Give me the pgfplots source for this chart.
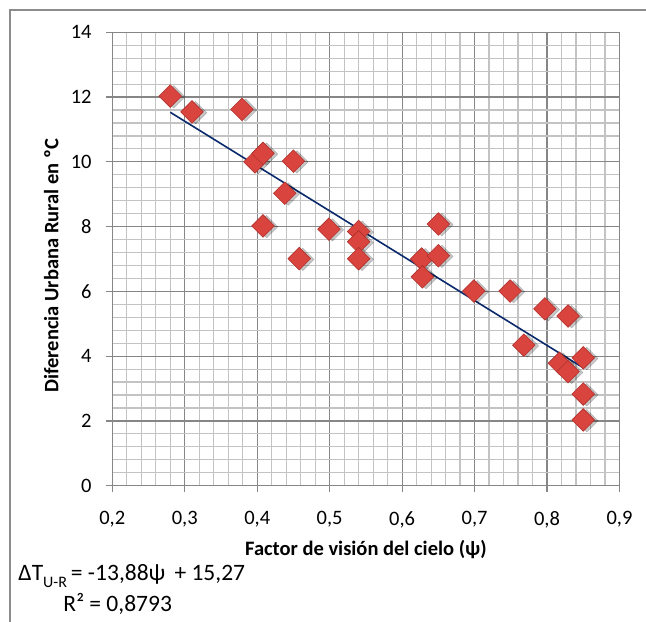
\documentclass[border=0pt]{standalone}
\usepackage{pgfplots}
\usepackage{pgfplotstable}
\pgfplotsset{compat=1.18}
\usepackage{fontspec}
\setmainfont{Carlito}
\definecolor{majgrid}{HTML}{868686}
\definecolor{mingrid}{HTML}{C3C3C3}
\definecolor{mkfill}{HTML}{D9443F}
\definecolor{mkdraw}{HTML}{B0302B}
\definecolor{trend}{HTML}{0A2A6B}
\definecolor{framec}{HTML}{8C8C8C}

\pgfplotstableread{
x y
0.280 12.03
0.310 11.54
0.379 11.62
0.397 10.00
0.408 10.26
0.450 10.02
0.438 9.03
0.408 8.02
0.458 7.01
0.499 7.92
0.540 7.85
0.540 7.53
0.540 7.01
0.627 7.00
0.650 7.10
0.628 6.45
0.650 8.08
0.699 6.01
0.749 6.01
0.797 5.46
0.829 5.24
0.768 4.34
0.817 3.78
0.829 3.52
0.850 3.95
0.850 2.83
0.850 2.03
}\datatable

\pgfplotstableread{
x y
0.280 11.53
0.850 3.64
}\trendtable

\begin{document}
\fontsize{19.5bp}{23bp}\selectfont
\begin{tikzpicture}
\path[use as bounding box] (-112.3bp,-136.3bp) rectangle (533.7bp,485.7bp);
\draw[framec, line width=1.3bp] (-102.3bp,-170bp) -- (-102.3bp,475.7bp) -- (600bp,475.7bp);
\begin{axis}[
  at={(0,0)}, anchor=south west, scale only axis,
  width=507.2bp, height=453.4bp,
  xmin=0.2, xmax=0.9, ymin=0, ymax=14,
  xtick={0.2,0.3,0.4,0.5,0.6,0.7,0.8,0.9},
  ytick={0,2,4,6,8,10,12,14},
  minor x tick num=4, minor y tick num=4,
  grid=both,
  major grid style={majgrid, line width=1.2bp},
  minor grid style={mingrid, line width=1.2bp},
  axis line style={majgrid, line width=1.2bp},
  tick pos=left, tick align=outside,
  major tick length=6bp, minor tick length=0bp,
  tick style={majgrid, line width=1.2bp},
  /pgf/number format/assume math mode=true,
  ticklabel style={font=\fontsize{20.5bp}{24bp}\selectfont, text=black},
  xticklabel style={yshift=-13bp, /pgf/number format/.cd, fixed, fixed zerofill, precision=1, use comma},
  yticklabel style={xshift=-8bp, /pgf/number format/.cd, fixed, precision=0},
  xlabel={Factor de visión del cielo (ψ)},
  ylabel={Diferencia Urbana Rural en ºC},
  label style={font=\fontsize{20.5bp}{24bp}\selectfont\bfseries},
  xlabel style={at={(rel axis cs:0.5,0)}, anchor=center, yshift=-64bp},
  ylabel style={at={(rel axis cs:-0.1203,0.485)}, anchor=center},
  clip=false,
]
\addplot[only marks, mark=square*, mark size=8bp,
  mark options={rotate=45, fill=black, draw=none, opacity=0.22, xshift=2bp, yshift=-3bp}]
  table[x=x,y=y] {\datatable};
\addplot[only marks, mark=square*, mark size=8bp,
  mark options={rotate=45, fill=mkfill, draw=mkdraw, line width=0.6bp}]
  table[x=x,y=y] {\datatable};
\addplot[trend, line width=1.6bp, no marks] table[x=x,y=y] {\trendtable};
\end{axis}
\node[anchor=west, inner sep=0pt, font=\fontsize{23.5bp}{27bp}\selectfont] at (-94bp,-90.5bp)
  {ΔT\raisebox{-0.3em}{\fontsize{16bp}{16bp}\selectfont U-R}\,= -13,88ψ \,+ 15,27};
\node[anchor=west, inner sep=0pt, font=\fontsize{23.5bp}{27bp}\selectfont] at (-49bp,-118.5bp) {R² = 0,8793};
\end{tikzpicture}
\end{document}
